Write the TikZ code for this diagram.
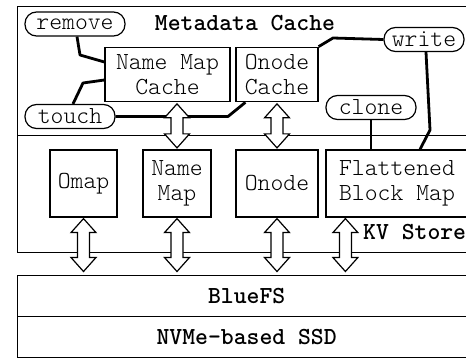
\documentclass[tikz,border=0pt]{standalone}
\usepackage{fontspec}
\setmonofont{lmmonolt10-regular.otf}[BoldFont=lmmonolt10-bold.otf]
\usetikzlibrary{calc}
\newcommand\diagfont{\ttfamily\fontsize{24.5}{25}\selectfont}
\newcommand\diagfontbf{\ttfamily\bfseries\fontsize{24.5}{25}\selectfont}
\newcommand\dblarr[3]{%
  \draw[blockarr] let \p1=(#1), \p2=(#2), \p3=(#3) in
   (\x1,\y2) -- (\x1+12.5pt,\y2-14pt) -- (\x1+6pt,\y2-14pt) -- (\x1+6pt,\y3+14pt)
   -- (\x1+12.5pt,\y3+14pt) -- (\x1,\y3) -- (\x1-12.5pt,\y3+14pt) -- (\x1-6pt,\y3+14pt)
   -- (\x1-6pt,\y2-14pt) -- (\x1-12.5pt,\y2-14pt) -- cycle;}
\tikzset{
  frame/.style={draw, line width=1.3pt, anchor=north west, inner sep=0pt, minimum width=458pt},
  box/.style={draw, line width=1.2pt, fill=white, font=\diagfont, align=center, inner sep=0pt},
  pill/.style={draw, line width=1.2pt, fill=white, rounded corners=11.5pt, minimum height=24pt, font=\diagfont, inner sep=0pt},
  conn/.style={line width=2.8pt, line join=round},
  blockarr/.style={draw, line width=1.2pt, fill=white, line join=miter},
  title/.style={font=\diagfontbf, inner sep=0pt},
}
\begin{document}
\begin{tikzpicture}[x=1pt,y=-1pt]
\useasboundingbox (0,0) rectangle (466,358);
% frames
\node[frame, minimum height=129pt] (mc) at (17,6) {};
\node[frame, minimum height=117pt] (kv) at (17,135) {};
\node[frame, minimum height=41pt, font=\diagfontbf] (bluefs) at (17,275) {BlueFS};
\node[frame, minimum height=41pt, font=\diagfontbf] (ssd) at (17,316) {NVMe-based SSD};
% titles
\node[title, anchor=base] (mctitle) at (245,31) {Metadata Cache};
\node[title, anchor=base west] (kvtitle) at (363,240) {KV Store};
% cache boxes
\node[box, minimum width=125pt, minimum height=54.5pt] (nmc) at (167.5,74.5) {Name Map\\Cache};
\node[box, minimum width=82pt, minimum height=54.5pt] (oc) at (277,74.5) {Onode\\Cache};
% kv boxes
\node[box, minimum width=67pt, minimum height=67pt] (omap) at (83.5,183.5) {Omap};
\node[box, minimum width=68pt, minimum height=67pt] (nm) at (177,183.5) {Name\\Map};
\node[box, minimum width=82pt, minimum height=67pt] (on) at (277,183.5) {Onode};
\node[box, minimum width=142pt, minimum height=67pt] (fbm) at (397,183.5) {Flattened\\Block Map};
% operations
\node[pill, minimum width=100pt] (remove) at (75,24) {remove};
\node[pill, minimum width=90pt] (touch) at (70,116.5) {touch};
\node[pill, minimum width=80pt] (write) at (424,39.5) {write};
\node[pill, minimum width=90pt] (clone) at (371,107.5) {clone};
% connectors
\draw[conn] ([xshift=2pt]remove.south) -- (80,55) -- (nmc.west |- 0,62);
\draw[conn] ([xshift=3pt]touch.north) -- (83,83) -- (nmc.west |- 0,80);
\draw[conn] (touch.east) -- (228,116.5) -- ([xshift=10pt]oc.south west);
\draw[conn] (oc.north east) -- (333,38) -- (write.west);
\draw[conn] ([xshift=2pt]write.south) -- (430,130) -- (fbm.north -| 420,0);
\draw[conn] (clone.south) -- (clone.south |- fbm.north);
% block arrows
\coordinate (fbmleg) at ($(fbm.south west)+(20,0)$);
\dblarr{nm.north}{[yshift=-1.5pt]nmc.south}{[yshift=1.5pt]nm.north}
\dblarr{on.north}{[yshift=-1.5pt]oc.south}{[yshift=1.5pt]on.north}
\dblarr{omap.south}{[yshift=-1pt]omap.south}{[yshift=3.5pt]bluefs.north}
\dblarr{nm.south}{[yshift=-1pt]nm.south}{[yshift=3.5pt]bluefs.north}
\dblarr{on.south}{[yshift=-1pt]on.south}{[yshift=3.5pt]bluefs.north}
\dblarr{fbmleg}{[yshift=-1pt]fbmleg}{[yshift=3.5pt]bluefs.north}
\end{tikzpicture}
\end{document}
